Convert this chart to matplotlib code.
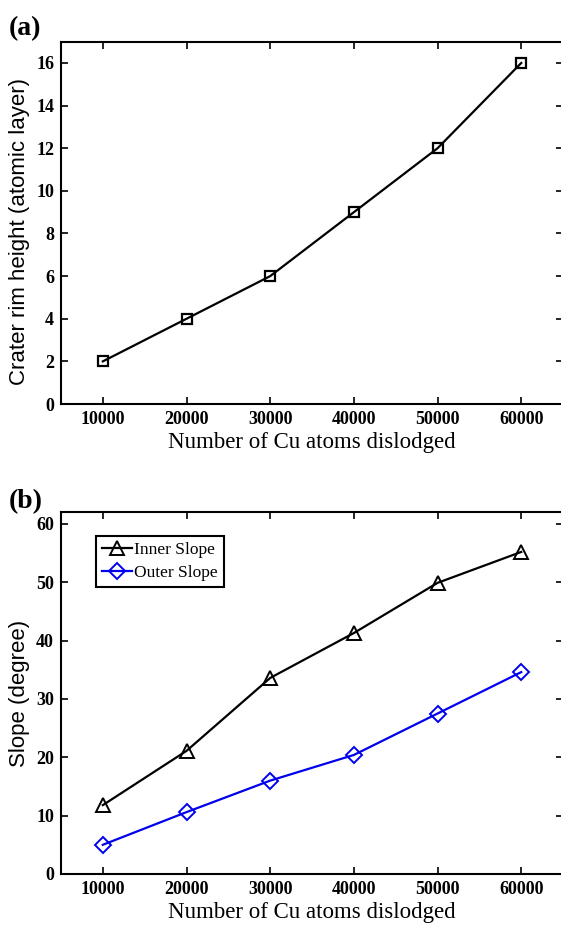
import numpy as np
import matplotlib.pyplot as plt

plt.rcParams['font.family'] = ['Liberation Serif', 'DejaVu Serif']

# data
atoms = [10000, 20000, 30000, 40000, 50000, 60000]
rim_height = [2, 4, 6, 9, 12, 16]
inner_slope = [11.8, 21.1, 33.6, 41.3, 49.9, 55.2]
outer_slope = [5.0, 10.6, 16.0, 20.4, 27.5, 34.6]

fig = plt.figure(figsize=(5.61, 9.26), dpi=100)

ax1 = fig.add_axes([0.1087, 0.5637, 0.895, 0.3913])
ax2 = fig.add_axes([0.1087, 0.0562, 0.895, 0.3906])

# (a) crater rim height
ax1.plot(atoms, rim_height, color='black', lw=1.6, marker='s', ms=7,
         mfc='none', mec='black', mew=1.6)
ax1.set_xlim(5000, 65000)
ax1.set_ylim(0, 17)
ax1.set_yticks(np.arange(0, 17, 2))
ax1.set_ylabel('Crater rim height (atomic layer)', fontsize=16,
               family='Liberation Sans')
ax1.yaxis.set_label_coords(-0.062, 0.476)

# (b) slopes
ax2.plot(atoms, inner_slope, color='black', lw=1.6, marker='^', ms=10,
         mfc='none', mec='black', mew=1.4, label='Inner Slope')
ax2.plot(atoms, outer_slope, color='#0000ee', lw=1.6, marker='D', ms=8,
         mfc='none', mec='#0000ee', mew=1.4, label='Outer Slope')
ax2.set_xlim(5000, 65000)
ax2.set_ylim(0, 62)
ax2.set_yticks(np.arange(0, 61, 10))
ax2.set_ylabel('Slope (degree)', fontsize=16, family='Liberation Sans')
ax2.yaxis.set_label_coords(-0.062, 0.5)
leg = ax2.legend(loc='upper left', bbox_to_anchor=(0.07, 0.934), fontsize=12.5,
                 handlelength=1.7, handletextpad=0.15, borderpad=0.35,
                 labelspacing=0.35, fancybox=False, edgecolor='black',
                 framealpha=1, borderaxespad=0)
leg.get_frame().set_linewidth(1.5)

for ax in (ax1, ax2):
    ax.set_xticks(atoms)
    ax.set_xlabel('Number of Cu atoms dislodged', fontsize=16.5, labelpad=3)
    ax.tick_params(direction='in', top=True, right=True, length=5,
                   width=1.2, labelsize=13, pad=5)
    for lab in ax.get_xticklabels() + ax.get_yticklabels():
        lab.set_fontweight('bold')
    for s in ax.spines.values():
        s.set_linewidth(1.5)

fig.text(0.015, 0.962, '(a)', fontsize=20, fontweight='bold')
fig.text(0.015, 0.451, '(b)', fontsize=20, fontweight='bold')

fig.savefig('out.png', dpi=100)
